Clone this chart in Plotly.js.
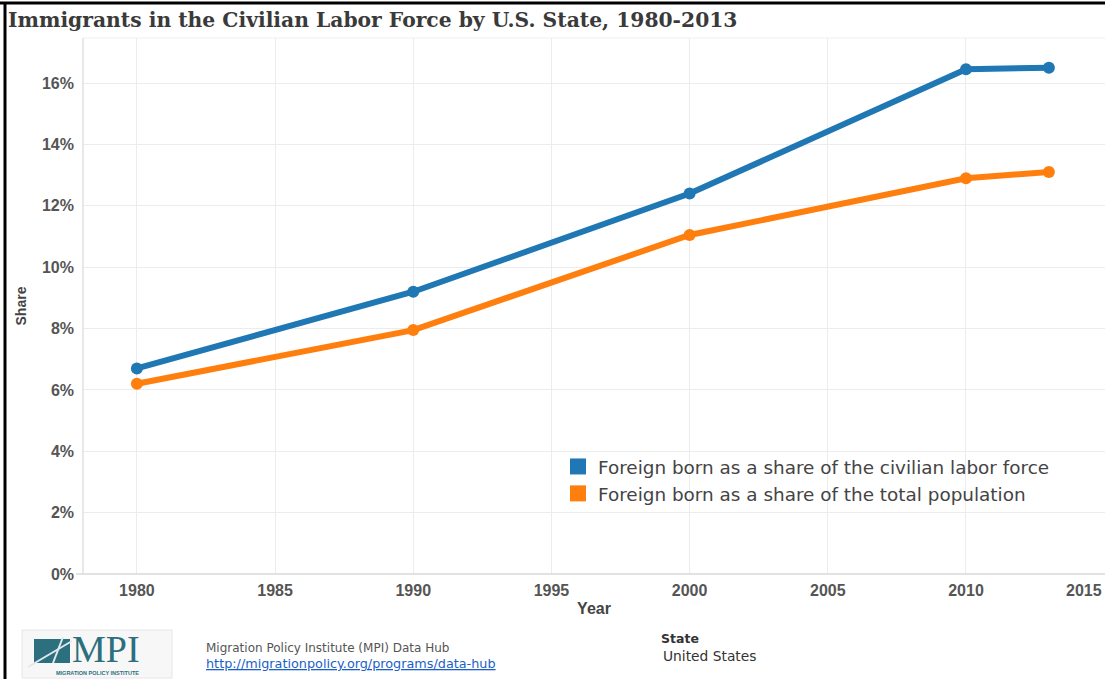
<!DOCTYPE html>
<html>
<head>
<meta charset="utf-8">
<script src="https://cdn.plot.ly/plotly-3.0.1.min.js"></script>
<style>
  html, body { margin: 0; padding: 0; background: #fff; }
  #chart { width: 1105px; height: 679px; }
</style>
</head>
<body>
<div id="chart"></div>
<script>
// ---- Data ----
const years = [1980, 1990, 2000, 2010, 2013];
const laborForceShare = [6.7, 9.2, 12.4, 16.45, 16.5];
const populationShare = [6.2, 7.95, 11.05, 12.9, 13.1];
const seriesNames = [
  "Foreign born as a share of the civilian labor force",
  "Foreign born as a share of the total population"
];
const xTickVals = [1980, 1985, 1990, 1995, 2000, 2005, 2010];
const yTickVals = [0, 2, 4, 6, 8, 10, 12, 14, 16];
const yTickText = yTickVals.map(v => v + "%");
const titleText = "Immigrants in the Civilian Labor Force by U.S. State, 1980-2013";

// ---- Layout geometry ----
const W = 1105, H = 679;
const mL = 83, mR = 0, mT = 38, mB = 105;
const plotW = W - mL - mR, plotH = H - mT - mB;
const px = x => (x - mL) / plotW;          // pixel -> paper x
const py = y => (H - mB - y) / plotH;      // pixel -> paper y

const BLUE = "#1f77b4", ORANGE = "#ff7f0e";
const TICKFONT = {size: 16, color: "#555", family: "Liberation Sans, Arial, sans-serif", weight: "bold"};

const traces = [
  {
    x: years, y: laborForceShare, name: seriesNames[0],
    mode: "lines+markers", showlegend: false,
    line: {color: BLUE, width: 6}, marker: {color: BLUE, size: 12},
    hoverinfo: "x+y"
  },
  {
    x: years, y: populationShare, name: seriesNames[1],
    mode: "lines+markers", showlegend: false,
    line: {color: ORANGE, width: 6}, marker: {color: ORANGE, size: 12},
    hoverinfo: "x+y"
  },
  {
    x: [null], y: [null], name: seriesNames[0], mode: "markers",
    marker: {color: BLUE, size: 22, symbol: "square"}
  },
  {
    x: [null], y: [null], name: seriesNames[1], mode: "markers",
    marker: {color: ORANGE, size: 22, symbol: "square"}
  }
];

const layout = {
  width: W, height: H,
  margin: {l: mL, r: mR, t: mT, b: mB, pad: 0},
  paper_bgcolor: "#ffffff",
  plot_bgcolor: "#ffffff",
  font: {family: "Liberation Sans, Arial, sans-serif", color: "#555"},
  title: {
    text: "<b>" + titleText + "</b>",
    font: {family: "DejaVu Serif, Georgia, serif", size: 20.3, color: "#3a3a3a"},
    x: 8 / W, xanchor: "left", xref: "container",
    y: 1 - 20 / H, yanchor: "middle", yref: "container"
  },
  xaxis: {
    range: [1978.05, 2015.03],
    tickvals: xTickVals,
    ticktext: xTickVals.map(String),
    ticks: "",
    ticklabelstandoff: 5,
    tickfont: TICKFONT,
    showgrid: true, gridcolor: "#ececec", gridwidth: 1,
    showline: false, zeroline: false,
    title: {text: "<b>Year</b>", font: {size: 16, color: "#444"}, standoff: 4},
    fixedrange: true
  },
  yaxis: {
    range: [0, 17.47],
    tickvals: yTickVals,
    ticktext: yTickText,
    ticks: "",
    ticklabelstandoff: 8,
    tickfont: TICKFONT,
    showgrid: true, gridcolor: "#ececec", gridwidth: 1,
    showline: false, zeroline: false,
    title: {text: "<b>Share</b>", font: {size: 14, color: "#444"}, standoff: 12},
    fixedrange: true
  },
  legend: {
    x: px(558), xanchor: "left",
    y: py(448), yanchor: "top",
    bgcolor: "rgba(0,0,0,0)",
    font: {size: 18.4, color: "#444", family: "DejaVu Sans, sans-serif"},
    itemwidth: 30,
    tracegroupgap: 0
  },
  shapes: [
    // plot frame lines
    {type: "line", xref: "paper", yref: "paper", x0: px(76), x1: 1.01, y0: 0, y1: 0,
     line: {color: "#d9d9d9", width: 1.5}},
    {type: "line", xref: "paper", yref: "paper", x0: 0, x1: 0, y0: 0, y1: 1,
     line: {color: "#e0e0e0", width: 1.5}},
    {type: "line", xref: "paper", yref: "paper", x0: 0, x1: 1.01, y0: 1, y1: 1,
     line: {color: "#efefef", width: 1}},
    // outer black border (top & left)
    {type: "line", xref: "paper", yref: "paper", x0: px(0), x1: px(W + 5), y0: py(3), y1: py(3),
     line: {color: "#000", width: 3}},
    {type: "line", xref: "paper", yref: "paper", x0: px(5), x1: px(5), y0: py(2), y1: py(H + 5),
     line: {color: "#000", width: 3}},
    // MPI logo box
    {type: "rect", xref: "paper", yref: "paper", x0: px(22), x1: px(172), y0: py(630), y1: py(678),
     fillcolor: "#f7f7f7", line: {color: "#e6e6e6", width: 1}},
    // logo emblem
    {type: "rect", xref: "paper", yref: "paper", x0: px(34), x1: px(70), y0: py(639), y1: py(663),
     fillcolor: "#2c6f7e", line: {width: 0}},
    {type: "line", xref: "paper", yref: "paper", x0: px(28), x1: px(72), y0: py(667), y1: py(641),
     line: {color: "#dfe9ec", width: 2}},
    {type: "line", xref: "paper", yref: "paper", x0: px(53), x1: px(63), y0: py(663), y1: py(637),
     line: {color: "#dfe9ec", width: 2}}
  ],
  annotations: [
    {xref: "x", yref: "paper", x: 2015, y: py(580), xanchor: "right", yanchor: "top",
     text: "<b>2015</b>", showarrow: false,
     font: TICKFONT},
    {xref: "paper", yref: "paper", x: px(70), y: py(649), xanchor: "left", yanchor: "middle",
     text: "MPI", showarrow: false,
     font: {size: 38, color: "#2c6f7e", family: "Liberation Serif, Times New Roman, serif"}},
    {xref: "paper", yref: "paper", x: px(97), y: py(673), xanchor: "center", yanchor: "middle",
     text: "<b>MIGRATION POLICY INSTITUTE</b>", showarrow: false,
     font: {size: 5.5, color: "#2c6f7e", family: "Liberation Sans, Arial, sans-serif"}},
    {xref: "paper", yref: "paper", x: px(204), y: py(648), xanchor: "left", yanchor: "middle",
     text: "Migration Policy Institute (MPI) Data Hub", showarrow: false,
     font: {size: 12, color: "#555", family: "DejaVu Sans, sans-serif"}},
    {xref: "paper", yref: "paper", x: px(204), y: py(663), xanchor: "left", yanchor: "middle",
     text: "<u>http://migrationpolicy.org/programs/data-hub</u>", showarrow: false,
     font: {size: 12.8, color: "#1a5fc8", family: "DejaVu Sans, sans-serif"}},
    {xref: "paper", yref: "paper", x: px(659), y: py(638), xanchor: "left", yanchor: "middle",
     text: "<b>State</b>", showarrow: false,
     font: {size: 12.5, color: "#333", family: "DejaVu Sans, sans-serif"}},
    {xref: "paper", yref: "paper", x: px(661), y: py(656), xanchor: "left", yanchor: "middle",
     text: "United States", showarrow: false,
     font: {size: 13.8, color: "#333", family: "DejaVu Sans, sans-serif"}}
  ]
};

Plotly.newPlot("chart", traces, layout, {displayModeBar: false, staticPlot: true});
</script>
</body>
</html>
